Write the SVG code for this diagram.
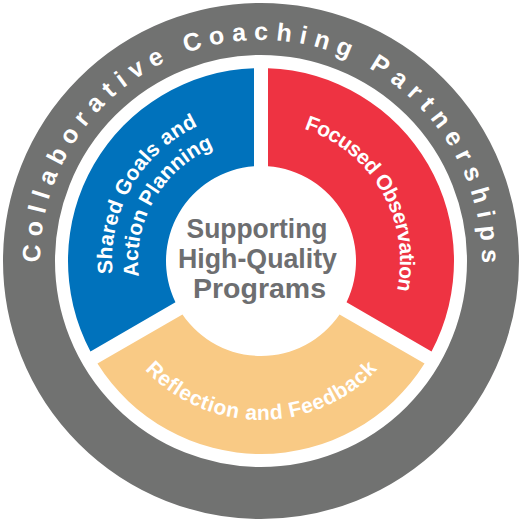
<svg xmlns="http://www.w3.org/2000/svg" width="522" height="523" viewBox="0 0 522 523">
  <style>
    .seg-label { font-family: "Liberation Sans", Arial, sans-serif; font-weight: bold; font-size: 21px; fill: #ffffff; }
    .ring-label { font-family: "Liberation Sans", Arial, sans-serif; font-weight: bold; font-size: 25px; fill: #ffffff; letter-spacing: 7.6px; }
    .center-label { font-family: "Liberation Sans", Arial, sans-serif; font-weight: bold; font-size: 28px; fill: #6d6e70; text-anchor: middle; }
  </style>
  <defs>
    <path id="ringPath" d="M 53.33 336.59 A 221 221 0 1 1 468.67 336.59"/>
    <path id="bluePath1" d="M 165.22 375.14 A 149 149 0 0 1 311.96 120.99"/>
    <path id="bluePath2" d="M 181.94 355.22 A 123 123 0 0 1 303.07 145.42"/>
    <path id="redPath" d="M 213.46 130.38 A 139 139 0 0 1 350.35 367.48"/>
    <path id="orangePath" d="M 111.59 315.38 A 159 159 0 0 0 410.41 315.38"/>
  </defs>
  <rect width="522" height="523" fill="#ffffff"/>

  <g id="ring">
    <circle cx="261" cy="261" r="232" fill="none" stroke="#717271" stroke-width="52"/>
    <text class="ring-label" text-anchor="middle"><textPath href="#ringPath" startOffset="428">Collaborative Coaching Partnerships</textPath></text>
  </g>

  <g id="shared-goals">
    <path d="M 254 68.13 A 193 193 0 0 0 90.47 351.39 L 175.45 302.3 A 95 95 0 0 1 254 166.26 Z" fill="#0072bc"/>
    <text class="seg-label" text-anchor="middle" letter-spacing="0.2"><textPath href="#bluePath1" startOffset="208">Shared Goals and</textPath></text>
    <text class="seg-label" text-anchor="middle"><textPath href="#bluePath2" startOffset="171.7">Action Planning</textPath></text>
  </g>

  <g id="focused-observation">
    <path d="M 268 68.13 A 193 193 0 0 1 431.53 351.39 L 346.55 302.3 A 95 95 0 0 0 268 166.26 Z" fill="#ee3342"/>
    <text class="seg-label" text-anchor="middle" letter-spacing="-0.6"><textPath href="#redPath" startOffset="194">Focused Observation</textPath></text>
  </g>

  <g id="reflection-feedback">
    <path d="M 97.46 363.49 A 193 193 0 0 0 424.54 363.49 L 339.55 314.43 A 95 95 0 0 1 182.45 314.43 Z" fill="#f9ca85"/>
    <text class="seg-label" text-anchor="middle" letter-spacing="0.6"><textPath href="#orangePath" startOffset="194.5">Reflection and Feedback</textPath></text>
  </g>

  <g id="center">
    <text class="center-label" x="257" y="238" textLength="141" lengthAdjust="spacingAndGlyphs">Supporting</text>
    <text class="center-label" x="257.5" y="268" textLength="159" lengthAdjust="spacingAndGlyphs">High-Quality</text>
    <text class="center-label" x="259.5" y="298" textLength="133" lengthAdjust="spacingAndGlyphs">Programs</text>
  </g>

  <g id="connectors"></g>
</svg>
